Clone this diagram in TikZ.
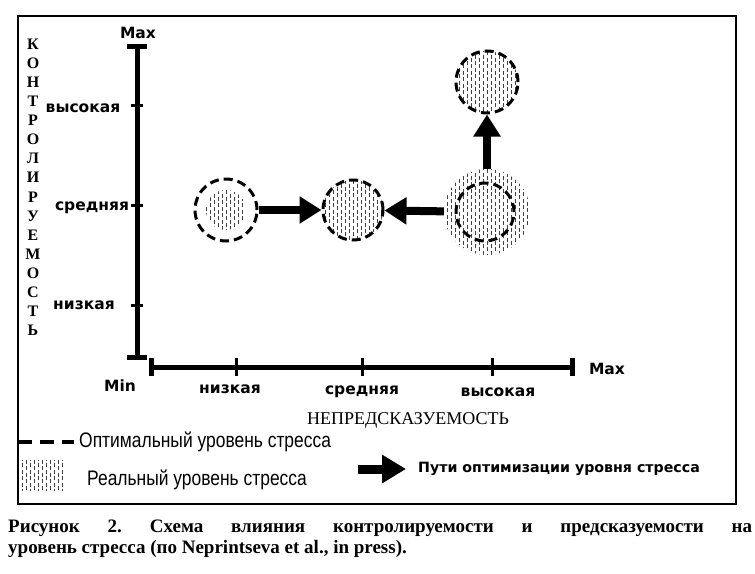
\documentclass[tikz,border=0pt]{standalone}
\usepackage{fontspec}
\setmainfont{Liberation Serif}
\newfontfamily\axisfont{DejaVu Sans}
\newfontfamily\narrowfont[FakeStretch=0.83]{Liberation Sans}
\usetikzlibrary{arrows.meta,positioning}
\frenchspacing

\begin{document}
\begin{tikzpicture}[x=1pt, y=-1pt,
    axis/.style={line width=5pt},
    tick/.style={line width=3pt},
    lab/.style={font=\axisfont\bfseries\fontsize{15.5}{18}\selectfont, inner sep=0},
    vert/.style={font=\bfseries\fontsize{16}{18}\selectfont, inner sep=0},
    hatchline/.style={line width=0.7pt, black!75, dash pattern=on 4pt off 2.5pt},
    hatch/.style={path picture={
        \foreach \k in {-48,-40,...,48}
          \draw[hatchline] ([xshift=\k pt]path picture bounding box.north) -- ([xshift=\k pt]path picture bounding box.south);
        \foreach \k in {-44,-36,...,44}
          \draw[hatchline, dash phase=3pt] ([xshift=\k pt]path picture bounding box.north) -- ([xshift=\k pt]path picture bounding box.south);}},
    ring/.style={circle, draw, line width=3pt, dash pattern=on 9pt off 5pt, inner sep=0},
    blob/.style={circle, hatch, inner sep=0},
    flow/.style={line width=8pt, -{Triangle[length=22pt,width=26pt]}},
    legend/.style={font=\narrowfont\fontsize{21}{23}\selectfont, inner sep=0},
    capline/.style={font=\bfseries\fontsize{19}{22}\selectfont, inner sep=0, anchor=west}
]
\useasboundingbox (0,0) rectangle (755,573);
\draw[line width=1.5pt] (18,16) rectangle (736,504);

% axes
\coordinate (ytop) at (137,46);
\coordinate (ybot) at (137,357);
\coordinate (xleft) at (151,367);
\coordinate (xright) at (572,367);
\draw[axis] (ytop) -- (ybot);
\draw[axis] ([xshift=-10pt]ytop) -- ([xshift=10pt]ytop);
\draw[axis] ([xshift=-10pt]ybot) -- ([xshift=10pt]ybot);
\draw[axis] (xleft) -- (xright);
\draw[axis] ([yshift=-9pt]xleft) -- ([yshift=9pt]xleft);
\draw[axis] ([yshift=-9pt]xright) -- ([yshift=9pt]xright);
\foreach \y in {105,205,305} \draw[tick] (131,\y) -- (143,\y);
\foreach \x in {236,362,492} \draw[tick] (\x,358) -- (\x,376);

% axis labels
\node[lab] (ymaxlab) at (138,33) {Max};
\foreach \lx/\y/\t [count=\i] in {83/108/высокая, 92/208/средняя, 84/305/низкая}
  \node[lab] (ylab\i) at (\lx,\y) {\t};
\node[lab] (xminlab) at (120,386) {Min};
\foreach \lx/\y/\t [count=\i] in {230/389/низкая, 362/392/средняя, 498/392/высокая}
  \node[lab] (xlab\i) at (\lx,\y) {\t};
\node[lab] (xmaxlab) at (607,369) {Max};
\foreach \c [count=\i from 0] in {К,О,Н,Т,Р,О,Л,И,Р,У,Е,М,О,С,Т,Ь}
  \node[vert] (k\i) at (33,44+19.1*\i) {\c};
\node[font=\fontsize{18}{20}\selectfont, inner sep=0] (xtitle) at (408,420) {НЕПРЕДСКАЗУЕМОСТЬ};

% stress levels
\node[blob, minimum size=40pt] (lowcore) at (226,210) {};
\node[ring, minimum size=62pt] (low) at (226,210) {};
\node[blob, ring, minimum size=60pt] (mid) at (353,210) {};
\node[blob, minimum size=86pt] (hi) at (487,212) {};
\node[ring, minimum size=58pt] (hiring) at (485,212) {};
\node[blob, ring, minimum size=62pt] (top) at (487,82) {};

\draw[flow] (low) -- (mid);
\draw[flow] (hi) -- (mid);
\draw[flow] (hi) -- (top);

% legend
\coordinate (dashA) at (18,442);
\coordinate (dashB) at (74,442);
\draw[line width=4pt, dash pattern=on 14pt off 8pt] (dashA) -- (dashB);
\node[legend, right=5pt of dashB] (optlab) {Оптимальный уровень стресса};
\node[rectangle, hatch, minimum width=46pt, minimum height=31pt, inner sep=0] (realkey) at (42,475) {};
\node[legend, anchor=west] (reallab) at (87,480) {Реальный уровень стресса};
\coordinate (keyA) at (358,469);
\coordinate (keyB) at (406,469);
\draw[line width=9pt, -{Triangle[length=24pt,width=27pt]}] (keyA) -- (keyB);
\node[lab, font=\axisfont\bfseries\fontsize{14.2}{16}\selectfont, right=12pt of keyB] (pathlab) {Пути оптимизации уровня стресса};

% caption
\node[capline] (cap1) at (8,528)
  {\makebox[744pt][s]{Рисунок 2. Схема влияния контролируемости и предсказуемости на}};
\node[capline] (cap2) at (8,549) {уровень стресса (по Neprintseva et al., in press).};
\end{tikzpicture}
\end{document}
